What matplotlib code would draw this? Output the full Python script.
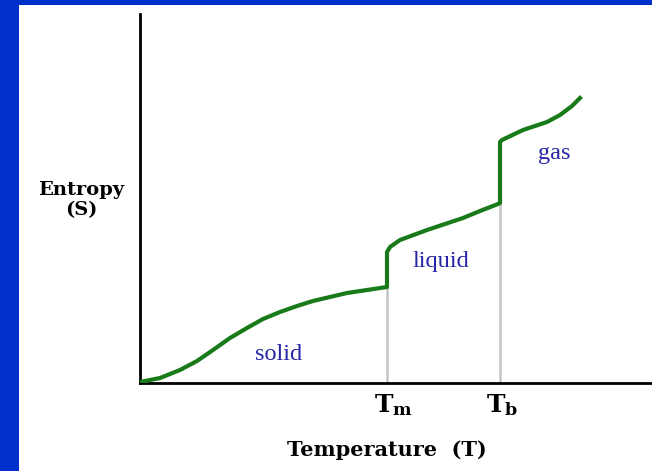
import matplotlib
matplotlib.use('Agg')
import matplotlib.pyplot as plt
from matplotlib.patches import Rectangle

# entropy curve (arbitrary units)
solid_T = [0.00, 0.20, 0.40, 0.57, 0.73, 0.90, 1.07, 1.23, 1.40, 1.57, 1.73, 1.90, 2.07, 2.27, 2.47]
solid_S = [0.01, 0.05, 0.13, 0.22, 0.33, 0.45, 0.55, 0.64, 0.71, 0.77, 0.82, 0.86, 0.90, 0.93, 0.96]
liquid_T = [2.47, 2.50, 2.60, 2.87, 3.05, 3.23, 3.40, 3.58, 3.60]
liquid_S = [1.31, 1.36, 1.43, 1.53, 1.59, 1.65, 1.72, 1.79, 1.80]
gas_T = [3.60, 3.62, 3.83, 4.07, 4.20, 4.32, 4.40]
gas_S = [2.41, 2.43, 2.53, 2.61, 2.68, 2.77, 2.85]
Tm = 2.47
Tb = 3.60

phase_names = ['solid', 'liquid', 'gas']
phase_pos = [(1.39, 0.29), (3.01, 1.22), (4.14, 2.29)]

plt.rcParams['font.family'] = ['Liberation Serif', 'DejaVu Serif']
plt.rcParams['mathtext.fontset'] = 'dejavuserif'

fig = plt.figure(figsize=(6.52, 4.71), dpi=100)
fig.patch.set_facecolor('#0030cc')
fig.patches.append(Rectangle((19/652, 0), 1, 1 - 5/471, transform=fig.transFigure,
                             facecolor='white', edgecolor='none', zorder=-1))

ax = fig.add_axes([140/652, 88/471, 512/652, 369/471])
ax.set_facecolor('none')
ax.set_xlim(0, 5.12)
ax.set_ylim(0, 3.69)

green = '#197a19'
# join the phases with the vertical jumps
T_all = solid_T + liquid_T + gas_T
S_all = solid_S + liquid_S + gas_S
ax.plot(T_all, S_all, color=green, lw=3.0, solid_joinstyle='round', zorder=3)

ax.plot([Tm, Tm], [0, solid_S[-1]], color='#c4c4c4', lw=1.8, zorder=2)
ax.plot([Tb, Tb], [0, liquid_S[-1]], color='#c4c4c4', lw=1.8, zorder=2)

for name, (x, y) in zip(phase_names, phase_pos):
    ax.text(x, y, name, color='#2626a6', fontsize=17.5, ha='center', va='center')

bold = dict(family='DejaVu Serif', fontweight='bold', clip_on=False)
ax.text(-0.59, 1.83, 'Entropy\n(S)', fontsize=14, ha='center', va='center',
        multialignment='center', linespacing=1.1, **bold)
ax.text(Tm + 0.06, -0.22, r'$\mathbf{T_m}$', fontsize=18, ha='center', va='center')
ax.text(Tb + 0.02, -0.22, r'$\mathbf{T_b}$', fontsize=18, ha='center', va='center')
ax.text(2.47, -0.67, 'Temperature  (T)', fontsize=15, ha='center', va='center', **bold)

for s in ['top', 'right']:
    ax.spines[s].set_visible(False)
ax.spines['left'].set_linewidth(2.0)
ax.spines['bottom'].set_linewidth(2.0)
ax.set_xticks([])
ax.set_yticks([])

fig.savefig('out.png', dpi=100)
